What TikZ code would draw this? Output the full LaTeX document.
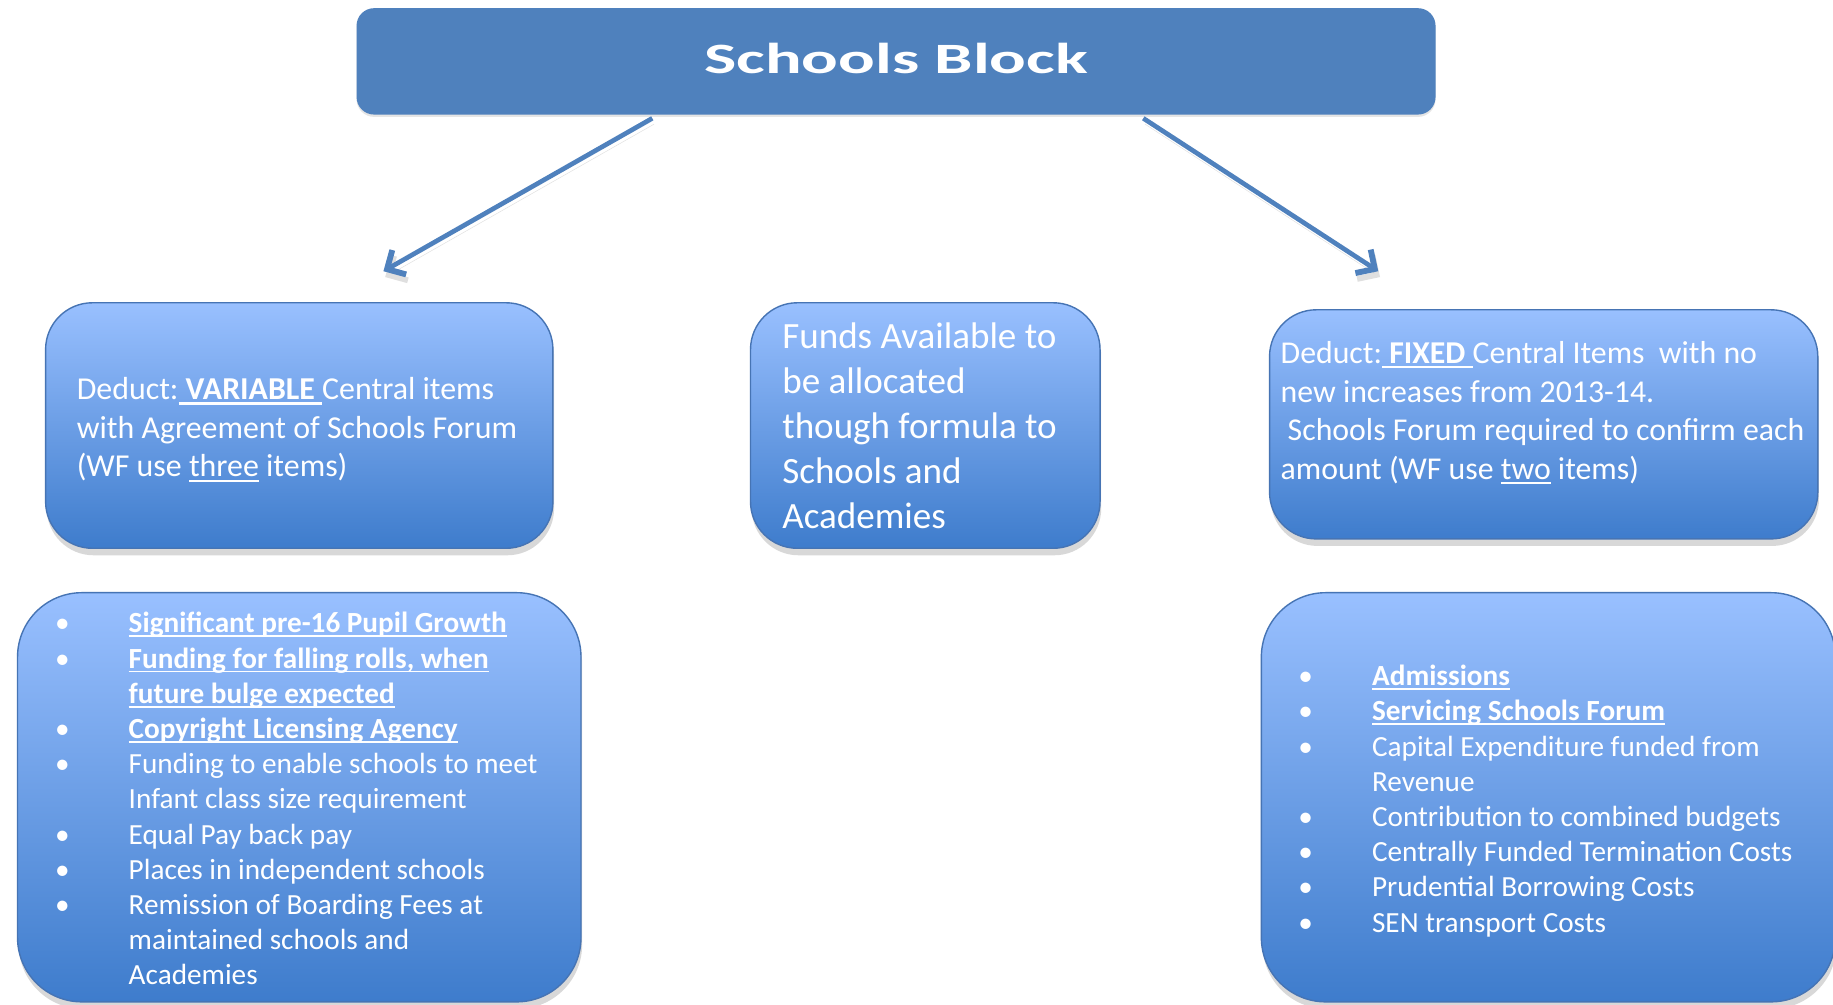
\documentclass[tikz,border=0pt]{standalone}
\usepackage{fontspec}
\setmainfont{Carlito}
\usetikzlibrary{arrows.meta,shadows}
\definecolor{titleblue}{RGB}{79,129,189}
\definecolor{boxtop}{RGB}{153,192,255}
\definecolor{boxbot}{RGB}{62,124,204}
\definecolor{boxline}{RGB}{70,116,180}
\newsavebox\ulbox
\newcommand\myul[1]{\sbox\ulbox{#1}\rlap{\rule[-0.15em]{\wd\ulbox}{0.065em}}\usebox\ulbox}
\newcommand\bul{\makebox[62pt][l]{\hspace{-1pt}•}}
\newcommand\ind{\makebox[62pt]{}}
\newcommand\padr[1]{\hbox to #1{}}
\tikzset{
  box/.style={draw=boxline, line width=1.2pt, rounded corners=40pt,
    top color=boxtop, bottom color=boxbot, text=white, align=left, inner sep=0pt,
    drop shadow={shadow xshift=1pt, shadow yshift=-6pt, opacity=0.3}},
  titlebox/.style={fill=titleblue, rounded corners=15pt, text=white, inner sep=0pt,
    drop shadow={shadow xshift=0pt, shadow yshift=-2pt, opacity=0.2}},
  arr/.style={draw=titleblue, line width=4pt,
    -{Straight Barb[length=12pt,width=24pt,line width=5pt]},
    preaction={draw=black!50, opacity=0.25, transform canvas={shift={(1.5pt,-5pt)}}}}
}
\begin{document}
\begin{tikzpicture}[x=1pt,y=-1pt]
\fill[white] (0,0) rectangle (1568,859);
\path[clip] (0,0) rectangle (1568,859);

\node[titlebox, minimum width=923pt, minimum height=91pt,
  font=\fontsize{37}{40}\selectfont\bfseries] (title) at (766.5,52.5)
  {\raisebox{6pt}{\scalebox{1.58}[1]{Schools Block}}};

\node[box, minimum width=434pt, minimum height=210pt,
  font=\fontsize{27.3}{33}\selectfont] (lvar) at (256,364)
  {\rule{0pt}{26pt}Deduct:\myul{ \textbf{VARIABLE} }Central items\\
   with Agreement of Schools Forum\padr{4pt}\\
   (WF use \myul{three} items)};

\node[box, minimum width=299pt, minimum height=210pt,
  font=\fontsize{31.7}{38.4}\selectfont] (funds) at (791.5,364)
  {Funds Available to\padr{10pt}\\ be allocated\\ though formula to\\ Schools and\\ Academies};

\node[box, minimum width=469pt, minimum height=196pt,
  font=\fontsize{27.2}{33}\selectfont] (rfix) at (1320.5,363)
  {Deduct:\myul{ \textbf{FIXED} }Central Items\ \ with no\\
   new increases from 2013-14.\\
   \hspace*{6pt}Schools Forum required to confirm each\padr{2pt}\\
   amount (WF use \myul{two} items)\\[-9pt]\mbox{}};

\node[box, rounded corners=55pt, minimum width=482pt, minimum height=350pt,
  font=\fontsize{25}{30.1}\selectfont] (llist) at (256,682)
  {\rule{0pt}{20pt}\bul\myul{\textbf{Significant pre-16 Pupil Growth}}\\
   \bul\myul{\textbf{Funding for falling rolls, when}}\\
   \ind\myul{\textbf{future bulge expected}}\\
   \bul\myul{\textbf{Copyright Licensing Agency}}\\
   \bul Funding to enable schools to meet\padr{4pt}\\
   \ind Infant class size requirement\\
   \bul Equal Pay back pay\\
   \bul Places in independent schools\\
   \bul Remission of Boarding Fees at\\
   \ind maintained schools and\\
   \ind Academies};

\node[box, rounded corners=55pt, minimum width=491pt, minimum height=350pt,
  font=\fontsize{25}{30.1}\selectfont] (rlist) at (1324.5,682)
  {\rule{0pt}{24pt}\bul\myul{\textbf{Admissions}}\\
   \bul\myul{\textbf{Servicing Schools Forum}}\\
   \bul Capital Expenditure funded from\\
   \ind Revenue\\
   \bul Contribution to combined budgets\\
   \bul Centrally Funded Termination Costs\padr{4pt}\\
   \bul Prudential Borrowing Costs\\
   \bul SEN transport Costs};

\coordinate (lend) at (328,232);
\coordinate (rend) at (1179,232);
\draw[arr] ([xshift=-208.5pt,yshift=-3pt]title.south) -- (lend);
\draw[arr] ([xshift=211.5pt,yshift=-3pt]title.south) -- (rend);
\end{tikzpicture}
\end{document}
